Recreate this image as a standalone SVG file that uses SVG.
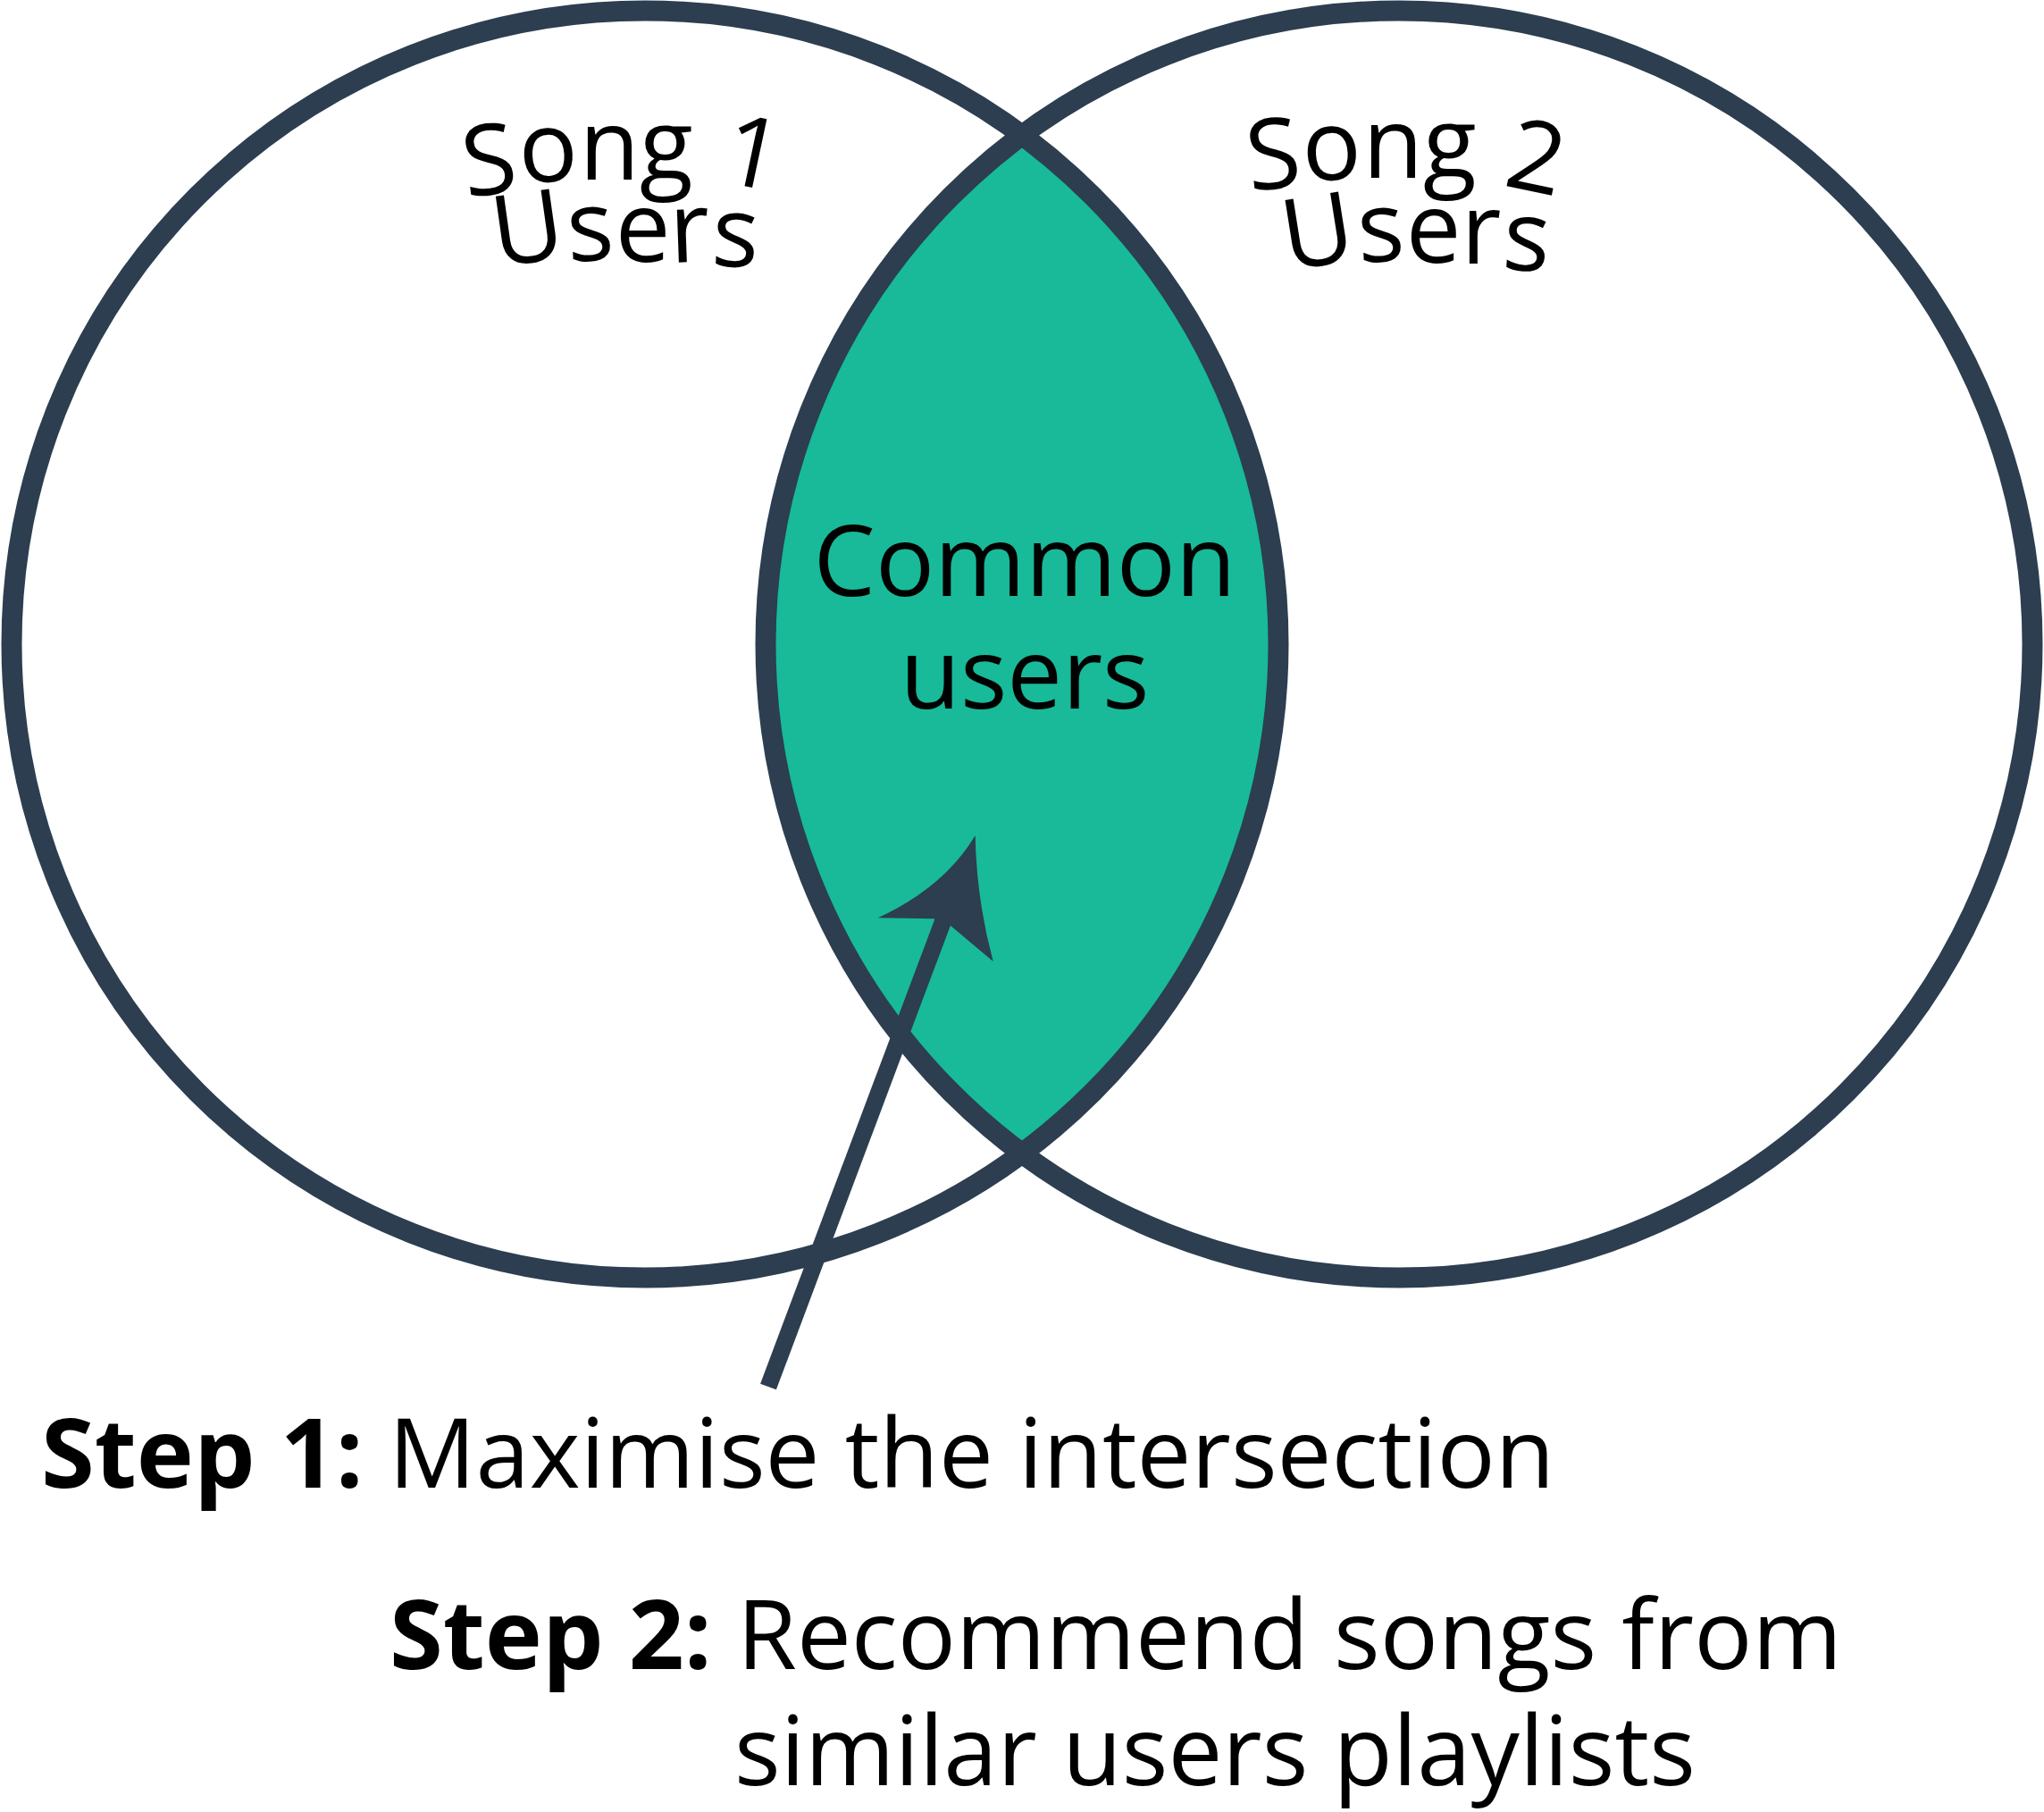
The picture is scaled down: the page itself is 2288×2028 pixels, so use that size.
<svg xmlns="http://www.w3.org/2000/svg" width="2288" height="2028" viewBox="0 0 2288 2028">
<style>
.ring{fill:none;stroke:#2C3E50;stroke-width:23}
.lbl{font-family:"Open Sans","Liberation Sans",sans-serif;font-size:110px;fill:#000}
.step{font-family:"Open Sans","Liberation Sans",sans-serif;font-size:108.5px;fill:#000}
.b{font-weight:bold}
</style>
<rect x="0" y="0" width="2288" height="2028" fill="#FFFFFF"/>
<g id="common">
<path d="M1144,152 A709,709 0 0,1 1144,1290 A709,709 0 0,1 1144,152 Z" fill="#18BA99"/>
<text class="lbl" x="1147" y="667" text-anchor="middle">Common</text>
<text class="lbl" x="1147" y="793" text-anchor="middle">users</text>
</g>
<g id="song1">
<circle class="ring" cx="722" cy="721" r="709"/>
<text class="lbl" x="522" y="221 205 201 201 202 202" rotate="-7 -3 0 0 0 12">Song 1</text>
<text class="lbl" x="556" y="299 293 293 294 297" rotate="-8 -3 0 -2 3">Users</text>
</g>
<g id="song2">
<circle class="ring" cx="1566" cy="721" r="709"/>
<text class="lbl" x="1399" y="214 203 199 199 205 207" rotate="-6 -3 0 0 0 12">Song 2</text>
<text class="lbl" x="1441" y="303 294 294 295 301" rotate="-9 -3 0 0 4">Users</text>
</g>
<g id="connectors">
<line x1="860" y1="1552" x2="1056" y2="1030" stroke="#2C3E50" stroke-width="19"/>
<path d="M1091.7,935 Q1057,993 982.7,1027.3 L1045,1028.3 L1064,1036 L1111.7,1076 Q1093,1007 1091.7,935 Z" fill="#2C3E50"/>
</g>
<g id="step1">
<text class="step" x="46" y="1665"><tspan class="b">Step 1:</tspan> Maximise the intersection</text>
</g>
<g id="step2">
<text class="step" x="436" y="1868"><tspan class="b">Step 2:</tspan> Recommend songs from</text>
<text class="step" x="822" y="1998">similar users playlists</text>
</g>
</svg>
